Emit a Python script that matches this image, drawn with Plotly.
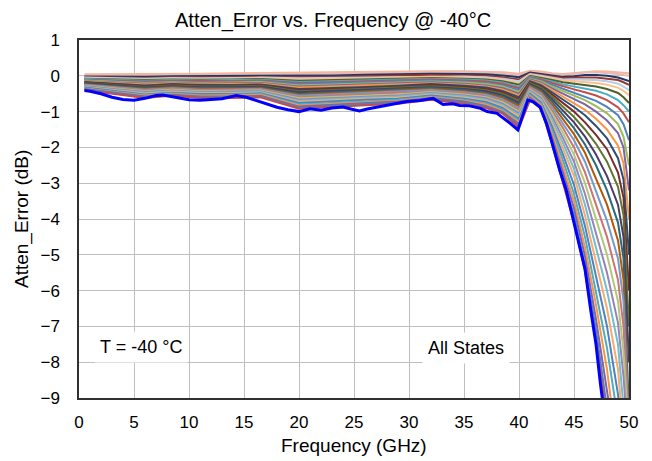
import plotly.graph_objects as go

FREQ_GHZ = [0.5, 3, 6, 8.5, 11, 14, 16.5, 20, 23, 26, 29, 32, 35, 37, 38.5, 40,
            41, 42, 43, 44, 45, 46, 47, 48, 49, 49.5, 50]

# one row per attenuation state, top (smallest error) to bottom
STATE_ERRORS = [
    [0.04, 0.04, 0.05, 0.06, 0.06, 0.07, 0.08, 0.1, 0.1, 0.11, 0.13, 0.13, 0.13, 0.12, 0.1, 0.06, 0.14, 0.12, 0.07, 0.05, 0.08, 0.12, 0.13, 0.12, 0.1, 0.08, 0.07],
    [0.01, 0.0, 0.0, 0.02, 0.02, 0.03, 0.04, 0.05, 0.06, 0.08, 0.1, 0.1, 0.1, 0.09, 0.06, 0.02, 0.12, 0.09, 0.04, 0.02, 0.05, 0.09, 0.1, 0.08, 0.05, 0.02, 0.0],
    [-0.02, -0.03, -0.03, -0.01, -0.01, 0.0, 0.01, 0.0, 0.01, 0.03, 0.05, 0.06, 0.05, 0.04, 0.01, -0.04, 0.09, 0.05, 0.0, -0.03, -0.01, 0.02, 0.02, 0.0, -0.05, -0.1, -0.15],
    [-0.04, -0.05, -0.06, -0.04, -0.04, -0.03, -0.02, -0.04, -0.03, -0.01, 0.01, 0.02, 0.01, 0.0, -0.04, -0.1, 0.06, 0.02, -0.03, -0.06, -0.05, -0.04, -0.05, -0.08, -0.12, -0.18, -0.25],
    [-0.05, -0.07, -0.08, -0.06, -0.07, -0.06, -0.05, -0.07, -0.06, -0.04, -0.02, -0.01, -0.02, -0.04, -0.08, -0.15, 0.05, 0.0, -0.05, -0.1, -0.1, -0.1, -0.12, -0.15, -0.22, -0.3, -0.4],
    [-0.07, -0.08, -0.1, -0.08, -0.09, -0.08, -0.07, -0.11, -0.09, -0.07, -0.05, -0.03, -0.05, -0.07, -0.12, -0.2, 0.03, -0.02, -0.08, -0.13, -0.15, -0.17, -0.2, -0.25, -0.33, -0.42, -0.54],
    [-0.08, -0.1, -0.12, -0.1, -0.11, -0.1, -0.09, -0.14, -0.12, -0.1, -0.08, -0.06, -0.08, -0.1, -0.15, -0.25, 0.0, -0.05, -0.12, -0.18, -0.22, -0.26, -0.3, -0.37, -0.48, -0.6, -0.76],
    [-0.09, -0.12, -0.14, -0.12, -0.13, -0.12, -0.11, -0.17, -0.15, -0.13, -0.11, -0.08, -0.1, -0.13, -0.19, -0.3, -0.02, -0.08, -0.16, -0.24, -0.3, -0.36, -0.42, -0.52, -0.68, -0.82, -1.0],
    [-0.11, -0.13, -0.16, -0.14, -0.15, -0.15, -0.13, -0.2, -0.18, -0.16, -0.13, -0.1, -0.13, -0.16, -0.22, -0.35, -0.04, -0.1, -0.2, -0.3, -0.38, -0.46, -0.55, -0.68, -0.88, -1.05, -1.3],
    [-0.12, -0.15, -0.18, -0.16, -0.18, -0.17, -0.15, -0.23, -0.21, -0.19, -0.16, -0.13, -0.16, -0.2, -0.26, -0.4, -0.06, -0.13, -0.25, -0.36, -0.46, -0.57, -0.7, -0.87, -1.1, -1.35, -1.8],
    [-0.13, -0.17, -0.2, -0.18, -0.2, -0.19, -0.17, -0.27, -0.24, -0.22, -0.19, -0.16, -0.19, -0.23, -0.3, -0.45, -0.08, -0.16, -0.3, -0.43, -0.55, -0.68, -0.85, -1.05, -1.35, -1.7, -2.5],
    [-0.15, -0.18, -0.22, -0.2, -0.22, -0.21, -0.2, -0.3, -0.27, -0.25, -0.22, -0.18, -0.22, -0.27, -0.34, -0.5, -0.1, -0.19, -0.35, -0.5, -0.64, -0.8, -1.0, -1.25, -1.6, -2.0, -3.2],
    [-0.16, -0.2, -0.24, -0.21, -0.24, -0.23, -0.22, -0.33, -0.3, -0.28, -0.25, -0.21, -0.25, -0.3, -0.38, -0.55, -0.13, -0.22, -0.4, -0.58, -0.75, -0.95, -1.2, -1.5, -1.95, -2.45, -4.0],
    [-0.17, -0.22, -0.27, -0.23, -0.26, -0.26, -0.24, -0.37, -0.33, -0.31, -0.28, -0.23, -0.28, -0.33, -0.42, -0.6, -0.15, -0.26, -0.46, -0.66, -0.87, -1.1, -1.4, -1.75, -2.3, -2.9, -5.0],
    [-0.19, -0.23, -0.29, -0.25, -0.28, -0.28, -0.26, -0.4, -0.36, -0.34, -0.31, -0.26, -0.31, -0.37, -0.46, -0.65, -0.18, -0.3, -0.52, -0.76, -1.0, -1.3, -1.65, -2.05, -2.7, -3.4, -6.0],
    [-0.2, -0.25, -0.31, -0.27, -0.3, -0.3, -0.28, -0.43, -0.4, -0.37, -0.34, -0.29, -0.34, -0.4, -0.5, -0.7, -0.2, -0.33, -0.58, -0.86, -1.15, -1.5, -1.9, -2.4, -3.1, -3.9, -7.0],
    [-0.21, -0.27, -0.33, -0.29, -0.32, -0.32, -0.3, -0.46, -0.43, -0.4, -0.37, -0.32, -0.37, -0.43, -0.54, -0.75, -0.23, -0.37, -0.65, -0.97, -1.3, -1.7, -2.2, -2.8, -3.6, -4.5, -8.0],
    [-0.23, -0.28, -0.35, -0.31, -0.34, -0.34, -0.33, -0.5, -0.46, -0.43, -0.4, -0.34, -0.4, -0.47, -0.58, -0.8, -0.26, -0.41, -0.72, -1.08, -1.46, -1.92, -2.5, -3.2, -4.1, -5.1, -9.5],
    [-0.24, -0.3, -0.37, -0.33, -0.36, -0.36, -0.35, -0.53, -0.49, -0.46, -0.43, -0.37, -0.43, -0.5, -0.62, -0.85, -0.29, -0.45, -0.8, -1.2, -1.63, -2.15, -2.85, -3.6, -4.6, -5.7, -10.0],
    [-0.25, -0.32, -0.39, -0.35, -0.39, -0.38, -0.37, -0.56, -0.52, -0.49, -0.46, -0.4, -0.46, -0.53, -0.66, -0.9, -0.32, -0.49, -0.88, -1.33, -1.8, -2.4, -3.2, -4.05, -5.1, -6.3, -10.0],
    [-0.27, -0.33, -0.41, -0.37, -0.41, -0.4, -0.39, -0.6, -0.56, -0.52, -0.49, -0.43, -0.49, -0.57, -0.7, -0.95, -0.35, -0.54, -0.97, -1.46, -2.0, -2.7, -3.6, -4.5, -5.7, -7.0, -10.0],
    [-0.28, -0.35, -0.43, -0.39, -0.43, -0.42, -0.41, -0.63, -0.59, -0.55, -0.52, -0.45, -0.52, -0.6, -0.74, -1.0, -0.38, -0.58, -1.05, -1.6, -2.2, -3.0, -4.0, -5.0, -6.3, -7.7, -10.0],
    [-0.29, -0.37, -0.45, -0.41, -0.45, -0.44, -0.43, -0.66, -0.62, -0.58, -0.55, -0.48, -0.55, -0.63, -0.78, -1.05, -0.41, -0.62, -1.14, -1.74, -2.4, -3.3, -4.4, -5.5, -6.9, -8.4, -10.5],
    [-0.31, -0.38, -0.48, -0.43, -0.47, -0.47, -0.45, -0.7, -0.65, -0.61, -0.58, -0.5, -0.58, -0.67, -0.82, -1.1, -0.44, -0.66, -1.23, -1.88, -2.6, -3.6, -4.8, -6.0, -7.5, -9.2, -11.0],
    [-0.32, -0.4, -0.5, -0.45, -0.49, -0.49, -0.47, -0.73, -0.68, -0.64, -0.61, -0.53, -0.61, -0.7, -0.86, -1.15, -0.47, -0.7, -1.32, -2.03, -2.8, -3.9, -5.2, -6.5, -8.2, -10.0, -11.0],
    [-0.33, -0.42, -0.52, -0.47, -0.51, -0.51, -0.49, -0.76, -0.71, -0.67, -0.64, -0.55, -0.64, -0.73, -0.9, -1.2, -0.5, -0.74, -1.42, -2.2, -3.05, -4.2, -5.6, -7.0, -8.9, -11.0, -12.0],
    [-0.35, -0.43, -0.54, -0.49, -0.54, -0.53, -0.51, -0.8, -0.75, -0.7, -0.67, -0.58, -0.67, -0.77, -0.94, -1.25, -0.54, -0.78, -1.52, -2.37, -3.3, -4.5, -6.0, -7.6, -9.6, -12.0, -13.0],
    [-0.36, -0.45, -0.56, -0.51, -0.56, -0.55, -0.53, -0.83, -0.78, -0.73, -0.7, -0.6, -0.7, -0.8, -0.98, -1.3, -0.57, -0.82, -1.62, -2.54, -3.5, -4.8, -6.4, -8.2, -10.5, -12.0, -13.0],
    [-0.37, -0.47, -0.58, -0.53, -0.58, -0.58, -0.56, -0.86, -0.81, -0.76, -0.72, -0.62, -0.72, -0.84, -1.01, -1.35, -0.61, -0.86, -1.72, -2.7, -3.7, -5.05, -6.8, -8.8, -11.0, -12.0, -13.0],
    [-0.39, -0.48, -0.6, -0.54, -0.6, -0.6, -0.58, -0.9, -0.84, -0.79, -0.75, -0.65, -0.75, -0.87, -1.03, -1.4, -0.65, -0.9, -1.82, -2.85, -3.9, -5.3, -7.1, -9.3, -11.5, -12.5, -13.0],
    [-0.4, -0.5, -0.62, -0.55, -0.62, -0.62, -0.6, -0.92, -0.86, -0.82, -0.78, -0.67, -0.78, -0.9, -1.05, -1.45, -0.68, -0.92, -1.9, -3.0, -4.1, -5.45, -7.4, -9.6, -12.0, -13.0, -14.0],
]

STATE_COLORS = [
    "#F9B493", "#E6B9B8", "#1F3864", "#953735", "#B9CDE5", "#FAC090",
    "#4F6228", "#4BACC6", "#C0504D", "#4F81BD", "#9BBB59", "#8064A2",
    "#F79646", "#2C4D75", "#772C2A", "#5F7530", "#4D3B62", "#276A7C",
    "#B65708", "#729ACA", "#CD7371", "#AFC97A", "#9983B5", "#6FBDD1",
    "#F9AB6B", "#4F81BD", "#4BACC6", "#F79646", "#8064A2", "#4F81BD",
    "#C0504D",
]

# worst-case state, drawn bold blue
WORST_FREQ = [0.5, 1, 2, 3, 4, 5, 6, 7, 7.6, 8.3, 9, 10, 11, 12, 13, 14.3, 15.2, 16, 17, 18,
              19, 20, 21, 22, 23, 24, 25, 25.5, 26.2, 27.4, 28.6, 29.8, 31, 32.2, 33.1, 34,
              34.6, 35.5, 36.5, 37.1, 38, 38.6, 39.2, 39.9, 40.4, 40.8, 41.3, 41.9, 42.5,
              43.1, 43.7, 44.3, 45, 45.5, 46, 46.5, 47, 47.4, 47.7]
WORST_ERR = [-0.41, -0.43, -0.5, -0.6, -0.66, -0.68, -0.63, -0.55, -0.54, -0.58, -0.62, -0.67,
             -0.68, -0.66, -0.64, -0.55, -0.6, -0.68, -0.78, -0.88, -0.95, -1.0, -0.92, -0.96,
             -0.9, -0.87, -0.95, -0.98, -0.93, -0.86, -0.78, -0.72, -0.69, -0.63, -0.8, -0.78,
             -0.83, -0.84, -0.91, -1.0, -1.05, -1.18, -1.33, -1.51, -1.05, -0.68, -0.73, -0.87,
             -1.33, -1.98, -2.63, -3.2, -4.1, -4.7, -5.4, -6.5, -7.5, -8.6, -9.3]

X_TICKS = [0, 5, 10, 15, 20, 25, 30, 35, 40, 45, 50]
Y_TICKS = [1, 0, -1, -2, -3, -4, -5, -6, -7, -8, -9]

FONT = "Liberation Sans, Arial, sans-serif"

fig = go.Figure()
for errors, color in zip(STATE_ERRORS, STATE_COLORS):
    fig.add_trace(go.Scatter(x=FREQ_GHZ, y=errors, mode="lines",
                             line={"color": color, "width": 2}, showlegend=False))

fig.add_trace(go.Scatter(x=WORST_FREQ, y=WORST_ERR, mode="lines",
                         line={"color": "#0000FF", "width": 3}, showlegend=False))

fig.add_annotation(x=5.6, y=-7.57, text="T = -40 °C", showarrow=False,
                   font={"size": 18, "color": "#000000"}, bgcolor="#FFFFFF", borderpad=5)
fig.add_annotation(x=35.2, y=-7.6, text="All States", showarrow=False,
                   font={"size": 18, "color": "#000000"}, bgcolor="#FFFFFF", borderpad=5)

# axis titles placed as annotations so they don't grow the margins
fig.add_annotation(x=0.5, y=-0.134, xref="paper", yref="paper", text="Frequency (GHz)",
                   showarrow=False, xanchor="center", yanchor="middle", font={"size": 19})
fig.add_annotation(x=-0.1036, y=0.5, xref="paper", yref="paper", text="Atten_Error (dB)",
                   showarrow=False, xanchor="center", yanchor="middle", textangle=-90,
                   font={"size": 19})

fig.update_layout(
    width=652,
    height=461,
    margin={"l": 71, "r": 31, "t": 32, "b": 71, "autoexpand": False},
    paper_bgcolor="#FFFFFF",
    plot_bgcolor="#FFFFFF",
    font={"family": FONT, "size": 17, "color": "#000000"},
    title={"text": "Atten_Error vs. Frequency @ -40°C", "x": 0.462, "xref": "paper",
           "xanchor": "center", "y": 0.974, "yanchor": "middle", "font": {"size": 20}},
)
fig.update_xaxes(range=[0, 50], tickvals=X_TICKS, showgrid=True, gridcolor="#BFBFBF",
                 gridwidth=1, zeroline=False, showline=True, linecolor="#303030",
                 linewidth=1.5, mirror=True, ticks="", ticklabelstandoff=8,
                 automargin=False)
fig.update_yaxes(range=[-9, 1], tickvals=Y_TICKS, showgrid=True, gridcolor="#BFBFBF",
                 gridwidth=1, zeroline=False, showline=True, linecolor="#303030",
                 linewidth=1.5, mirror=True, ticks="", ticklabelstandoff=14,
                 automargin=False)

fig.write_html("out.html")
